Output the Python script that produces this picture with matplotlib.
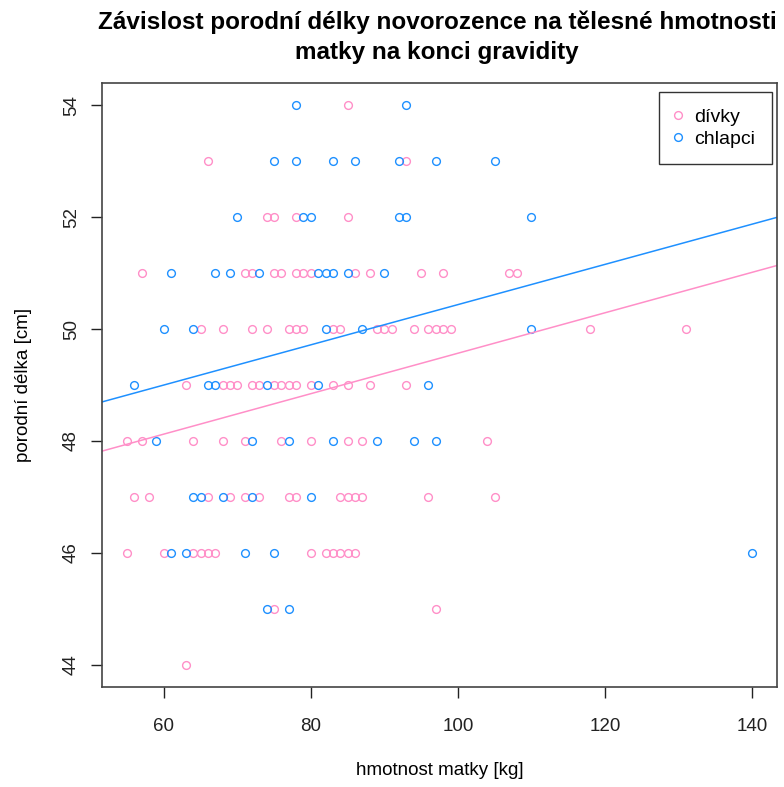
import numpy as np
import matplotlib
matplotlib.use("Agg")
import matplotlib.pyplot as plt

plt.rcParams['font.family'] = ['Liberation Sans', 'DejaVu Sans']

# girls (dívky): weight [kg] by birth length [cm]
girls = {
    54: [85],
    53: [66, 93],
    52: [74, 75, 78, 85],
    51: [57, 71, 72, 75, 76, 78, 79, 80, 86, 88, 95, 98, 107, 108],
    50: [65, 68, 72, 74, 77, 78, 79, 83, 84, 89, 90, 91, 94, 96, 97, 98, 99, 118, 131],
    49: [63, 68, 69, 70, 72, 73, 75, 76, 77, 78, 80, 83, 85, 88, 93],
    48: [55, 57, 64, 68, 71, 76, 80, 85, 87, 104],
    47: [56, 58, 66, 69, 71, 73, 77, 78, 84, 85, 86, 87, 96, 105],
    46: [55, 60, 64, 65, 66, 67, 80, 82, 83, 84, 85, 86],
    45: [75, 97],
    44: [63],
}
# boys (chlapci)
boys = {
    54: [78, 93],
    53: [75, 78, 83, 86, 92, 97, 105],
    52: [70, 79, 80, 92, 93, 110],
    51: [61, 67, 69, 73, 81, 82, 83, 85, 90],
    50: [60, 64, 82, 87, 110],
    49: [56, 66, 67, 74, 81, 96],
    48: [59, 72, 77, 83, 89, 94, 97],
    47: [64, 65, 68, 72, 80],
    46: [61, 63, 71, 75, 140],
    45: [74, 77],
}

def flatten(d):
    xs, ys = [], []
    for y, xl in d.items():
        for x in xl:
            xs.append(x); ys.append(y)
    return np.array(xs, float), np.array(ys, float)

gx, gy = flatten(girls)
bx, by = flatten(boys)

pink = '#FF8FC8'
blue = '#1E90FF'

fig = plt.figure(figsize=(7.84, 7.87), dpi=100)
ax = fig.add_axes([102/784, 1-687/787, (777-102)/784, (687-83)/787])

ax.plot(gx, gy, 'o', ms=5.6, mfc='none', mec=pink, mew=1.0, label='dívky')
ax.plot(bx, by, 'o', ms=5.6, mfc='none', mec=blue, mew=1.0, label='chlapci')

xlim = (51.6, 143.4)
xx = np.array(xlim)
pg = np.polyfit(gx, gy, 1)
pb = np.polyfit(bx, by, 1)
ax.plot(xx, np.polyval(pg, xx), color=pink, lw=1.1)
ax.plot(xx, np.polyval(pb, xx), color=blue, lw=1.1)

ax.set_xlim(*xlim)
ax.set_ylim(43.6, 54.4)
ax.set_xticks([60, 80, 100, 120, 140])
ax.set_yticks([44, 46, 48, 50, 52, 54])
ax.tick_params(direction='out', length=8, width=1, labelsize=13.5, colors='#222222')
for lab in ax.get_yticklabels():
    lab.set_rotation(90)
    lab.set_va('center')
ax.tick_params(axis='x', pad=14)
ax.tick_params(axis='y', pad=8)
for s in ax.spines.values():
    s.set_color('#444444'); s.set_linewidth(1.2)

ax.set_xlabel('hmotnost matky [kg]', fontsize=13.5, labelpad=20)
ax.set_ylabel('porodní délka [cm]', fontsize=13.5, labelpad=22)
fig.suptitle('Závislost porodní délky novorozence na tělesné hmotnosti\nmatky na konci gravidity',
             x=437/784, fontsize=17.5, fontweight='bold', y=0.987, linespacing=1.4)

leg = ax.legend(loc='upper right', bbox_to_anchor=(772/784, 1-92/787),
                bbox_transform=fig.transFigure, borderaxespad=0,
                fontsize=14, frameon=True, fancybox=False,
                edgecolor='black', borderpad=0.85, handletextpad=0.75, handlelength=0.2,
                labelspacing=0.2)
leg.get_frame().set_linewidth(1.0)

fig.savefig('out.png', dpi=100)
